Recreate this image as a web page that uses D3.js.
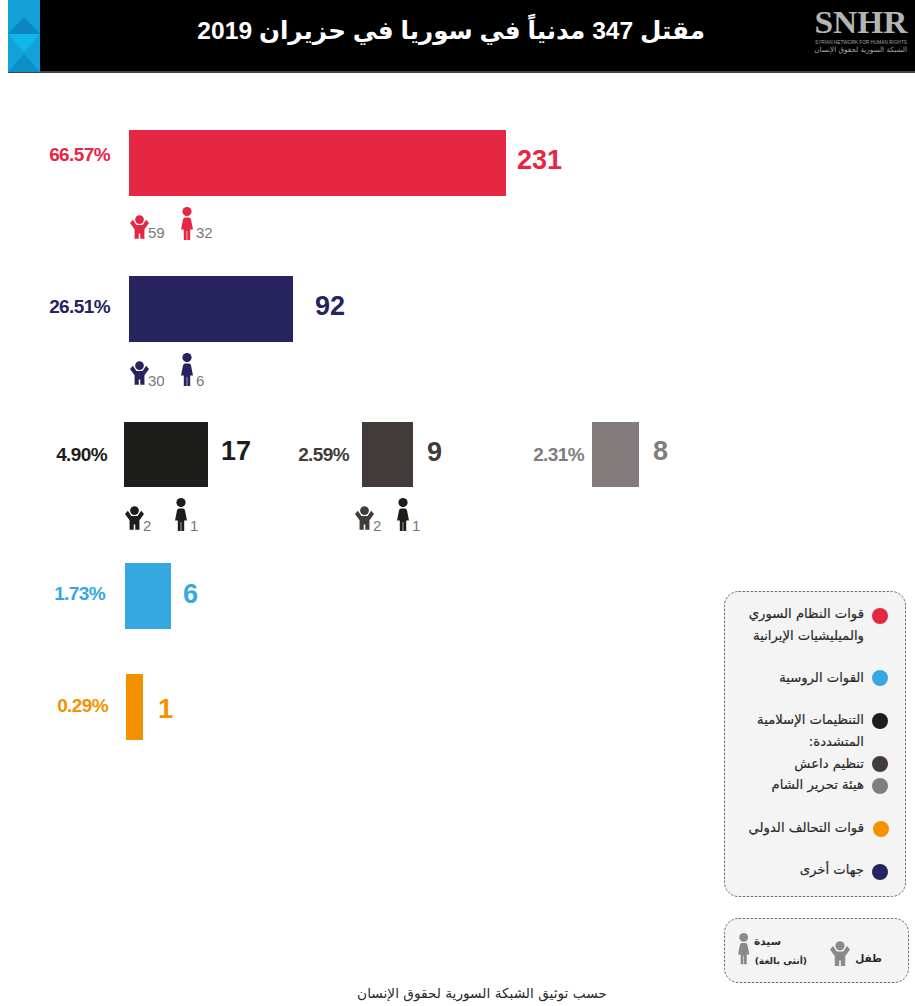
<!DOCTYPE html>
<html lang="ar">
<head>
<meta charset="utf-8">
<script src="https://cdn.jsdelivr.net/npm/d3@7"></script>
<style>
  html, body { margin: 0; padding: 0; background: #fff; }
  svg { display: block; }
  text { font-family: "DejaVu Sans", sans-serif; }
  .num { font-family: "Liberation Sans", Arial, sans-serif; }
  .mixed { font-family: "Liberation Sans", "DejaVu Sans", sans-serif; }
</style>
</head>
<body>
<div id="chart"></div>
<script>
// Civilian deaths in Syria, June 2019, by perpetrator
const parties   = ["regime", "others", "extremist", "isis", "hts", "russia", "coalition"];
const victims   = [231, 92, 17, 9, 8, 6, 1];
const shares    = ["66.57%", "26.51%", "4.90%", "2.59%", "2.31%", "1.73%", "0.29%"];
const children  = [59, 30, 2, 2, null, null, null];
const women     = [32, 6, 1, 1, null, null, null];
const colors    = ["#e62744", "#27235f", "#1d1d1b", "#413c39", "#827d7c", "#35a8e0", "#f39200"];

const titleText  = "مقتل 347 مدنياً في سوريا في حزيران 2019";
const footerText = "حسب توثيق الشبكة السورية لحقوق الإنسان";
const legendLines = [
  "قوات النظام السوري", "والميليشيات الإيرانية", "القوات الروسية",
  "التنظيمات الإسلامية", "المتشددة:", "تنظيم داعش", "هيئة تحرير الشام",
  "قوات التحالف الدولي", "جهات أخرى"
];
const legendDots = ["regime", "russia", "extremist", "isis", "hts", "coalition", "others"];

const W = 915, H = 1006;
const svg = d3.select("#chart").append("svg").attr("width", W).attr("height", H);

// Bar lengths follow the graphic's compressed length scale for the small counts
const length = d3.scaleLinear().domain([1, 6, 8, 9, 17, 92, 231]).range([17, 46, 47, 51, 84, 164, 377]);

// Placement of each group on the page
const barLeft  = d3.scaleOrdinal(parties, [129, 129, 124, 362, 592, 125, 126]);
const barTop   = d3.scaleOrdinal(parties, [130, 276, 422, 422, 422, 563, 674]);
const barTall  = d3.scaleOrdinal(parties, [66, 66, 65, 65, 65, 66, 66]);
const valueGap = d3.scaleOrdinal(parties, [11, 22, 13, 14, 14, 12, 15]);
const valueDrop = d3.scaleOrdinal(parties, [39, 39, 38, 39, 38, 40, 44]);
const shareGap = d3.scaleOrdinal(parties, [19, 19, 17, 13, 8, 20, 18]);
const shareDrop = d3.scaleOrdinal(parties, [31, 37, 39, 39, 39, 37, 38]);
const childLeft = d3.scaleOrdinal(parties, [130, 130, 125, 355, 0, 0, 0]);
const womanLeft = d3.scaleOrdinal(parties, [181, 181, 175, 397, 0, 0, 0]);
const countDrop = d3.scaleOrdinal(parties, [42, 44, 44, 44, 0, 0, 0]);

const rows = parties.map((p, i) => ({
  party: p, value: victims[i], share: shares[i],
  child: children[i], woman: women[i], color: colors[i]
}));
const colorOf = d3.scaleOrdinal(parties, colors);

// ---- Header band ----
const header = svg.append("g");
header.append("rect").attr("x", 8).attr("y", 0).attr("width", W - 8).attr("height", 72).attr("fill", "#000");
header.append("rect").attr("x", 8).attr("y", 71).attr("width", W - 8).attr("height", 2).attr("fill", "#444");
header.append("rect").attr("x", 8).attr("y", 0).attr("width", 32).attr("height", 72).attr("fill", "#12a0d6");

// Two stacked squares, each split into lit and shaded facets
const facets = [
  { d: "M8 0 L24 17 L40 0 Z", fill: "#169fd6" },
  { d: "M8 34 L24 17 L40 34 Z", fill: "#0b86bf" },
  { d: "M8 34 L24 53 L40 34 Z", fill: "#10b6e6" },
  { d: "M8 72 L24 53 L40 72 Z", fill: "#0c8fc6" },
  { d: "M8 34 L24 53 L8 72 Z", fill: "#14a2d9" },
  { d: "M40 34 L24 53 L40 72 Z", fill: "#14a2d9" }
];
header.selectAll("path.facet").data(facets).join("path")
  .attr("class", "facet").attr("d", d => d.d).attr("fill", d => d.fill);

header.append("text").attr("class", "mixed")
  .attr("x", 705).attr("y", 39)
  .attr("text-anchor", "start").attr("direction", "rtl")
  .attr("fill", "#fff").attr("font-size", 24.6).attr("font-weight", 700)
  .text(titleText);

// Organisation mark
header.append("text")
  .attr("x", 861).attr("y", 33).attr("text-anchor", "middle")
  .style("font-family", "'Liberation Serif', serif")
  .attr("font-size", 32).attr("font-weight", 700)
  .attr("textLength", 93).attr("lengthAdjust", "spacingAndGlyphs")
  .attr("fill", "#b4b4b4").text("SNHR");
header.append("text")
  .attr("x", 861).attr("y", 44).attr("text-anchor", "middle")
  .style("font-family", "'Liberation Sans', sans-serif")
  .attr("font-size", 5).attr("textLength", 92).attr("lengthAdjust", "spacingAndGlyphs")
  .attr("fill", "#a0a0a0").text("SYRIAN NETWORK FOR HUMAN RIGHTS");
header.append("text")
  .attr("x", 907).attr("y", 52).attr("text-anchor", "start").attr("direction", "rtl")
  .attr("font-size", 7.2)
  .attr("fill", "#a0a0a0").text("الشبكة السورية لحقوق الإنسان");

// ---- Pictograms ----
function drawChild(g, x, y, k, fill) {
  const s = g.append("g").attr("transform", `translate(${x},${y}) scale(${k})`).attr("fill", fill);
  s.append("circle").attr("cx", 10).attr("cy", 4.8).attr("r", 4.6);
  s.append("path").attr("d", "M0 8.5 L3 5 L6.8 10.4 H13.2 L17 5 L20 8.5 L15.2 15 V25 H10.8 V19.5 H9.2 V25 H4.8 V15 Z");
}
function drawWoman(g, x, y, k, fill) {
  const s = g.append("g").attr("transform", `translate(${x},${y}) scale(${k})`).attr("fill", fill);
  s.append("circle").attr("cx", 6).attr("cy", 4.6).attr("r", 4.6);
  s.append("path").attr("d", "M4 10.5 H8 Q9.6 10.5 10 12.5 L12 22.5 H9.2 V33 H6.3 V24 H5.7 V33 H2.8 V22.5 H0 L2 12.5 Q2.4 10.5 4 10.5 Z");
}

// ---- Bars and their labels ----
const marks = svg.append("g");
marks.selectAll("rect.bar").data(rows).join("rect")
  .attr("class", "bar")
  .attr("x", d => barLeft(d.party))
  .attr("y", d => barTop(d.party))
  .attr("width", d => length(d.value))
  .attr("height", d => barTall(d.party))
  .attr("fill", d => d.color);

marks.selectAll("text.value").data(rows).join("text")
  .attr("class", "value num")
  .attr("x", d => barLeft(d.party) + length(d.value) + valueGap(d.party))
  .attr("y", d => barTop(d.party) + valueDrop(d.party))
  .attr("font-size", 27).attr("font-weight", 700)
  .attr("fill", d => d.color)
  .text(d => d.value);

marks.selectAll("text.share").data(rows).join("text")
  .attr("class", "share num")
  .attr("x", d => barLeft(d.party) - shareGap(d.party))
  .attr("y", d => barTop(d.party) + shareDrop(d.party))
  .attr("text-anchor", "end")
  .attr("font-size", 19).attr("font-weight", 700).attr("letter-spacing", -0.6)
  .attr("fill", d => d.color)
  .text(d => d.share);

// Child and woman counts sit under the bar
rows.filter(d => d.child !== null).forEach(d => {
  const base = barTop(d.party) + barTall(d.party);
  const g = marks.append("g");
  drawChild(g, childLeft(d.party), base + 19, 0.95, d.color);
  g.append("text").attr("class", "num")
    .attr("x", childLeft(d.party) + 18).attr("y", base + countDrop(d.party))
    .attr("font-size", 15).attr("fill", "#77777a").text(d.child);
  drawWoman(g, womanLeft(d.party), base + 11, 1, d.party === "isis" ? "#1d1d1b" : d.color);
  g.append("text").attr("class", "num")
    .attr("x", womanLeft(d.party) + 15).attr("y", base + countDrop(d.party))
    .attr("font-size", 15).attr("fill", "#77777a").text(d.woman);
});

// ---- Colour key ----
const key = svg.append("g");
key.append("rect").attr("x", 724.5).attr("y", 591.5).attr("width", 181).attr("height", 305).attr("rx", 14)
  .attr("fill", "#f4f4f5").attr("stroke", "#6f6f6f").attr("stroke-dasharray", "2.5 1.5");

const dotY = d3.scaleOrdinal(legendDots, [616, 678, 721, 764, 786, 829, 872]);
const dotX = d3.scaleOrdinal(legendDots, [880, 880, 880, 880, 880, 881, 880]);
key.selectAll("circle").data(legendDots).join("circle")
  .attr("cx", d => dotX(d)).attr("cy", d => dotY(d)).attr("r", 8)
  .attr("fill", d => colorOf(d));

const lineY = d3.scaleOrdinal(legendLines, [618, 640, 682, 724, 746, 768, 789, 832, 874]);
key.selectAll("text").data(legendLines).join("text")
  .attr("x", 864).attr("y", d => lineY(d))
  .attr("text-anchor", "start").attr("direction", "rtl")
  .attr("font-size", 13.2).attr("fill", "#2a2a2a")
  .attr("stroke", "#2a2a2a").attr("stroke-width", 0.2)
  .text(d => d);

// ---- Pictogram key ----
const iconKey = svg.append("g");
iconKey.append("rect").attr("x", 724.5).attr("y", 918.5).attr("width", 184).attr("height", 64).attr("rx", 14)
  .attr("fill", "#f4f4f5").attr("stroke", "#6f6f6f").attr("stroke-dasharray", "2.5 1.5");
drawChild(iconKey, 830, 941, 1, "#8a8a8a");
drawWoman(iconKey, 738, 933, 0.95, "#8a8a8a");
iconKey.append("text").attr("x", 882).attr("y", 962).attr("text-anchor", "start").attr("direction", "rtl")
  .attr("font-size", 10.5).attr("font-weight", 700).attr("fill", "#2a2a2a").text("طفل");
iconKey.append("text").attr("x", 781).attr("y", 945).attr("text-anchor", "start").attr("direction", "rtl")
  .attr("font-size", 10.5).attr("font-weight", 700).attr("fill", "#2a2a2a").text("سيدة");
iconKey.append("text").attr("x", 807).attr("y", 964).attr("text-anchor", "start").attr("direction", "rtl")
  .attr("font-size", 9.2).attr("font-weight", 700).attr("fill", "#2a2a2a").text("(أنثى بالغة)");

// ---- Source line ----
svg.append("text")
  .attr("x", 482).attr("y", 998).attr("text-anchor", "middle").attr("direction", "rtl")
  .attr("font-size", 13.7).attr("fill", "#2a2a2a").text(footerText);
</script>
</body>
</html>
